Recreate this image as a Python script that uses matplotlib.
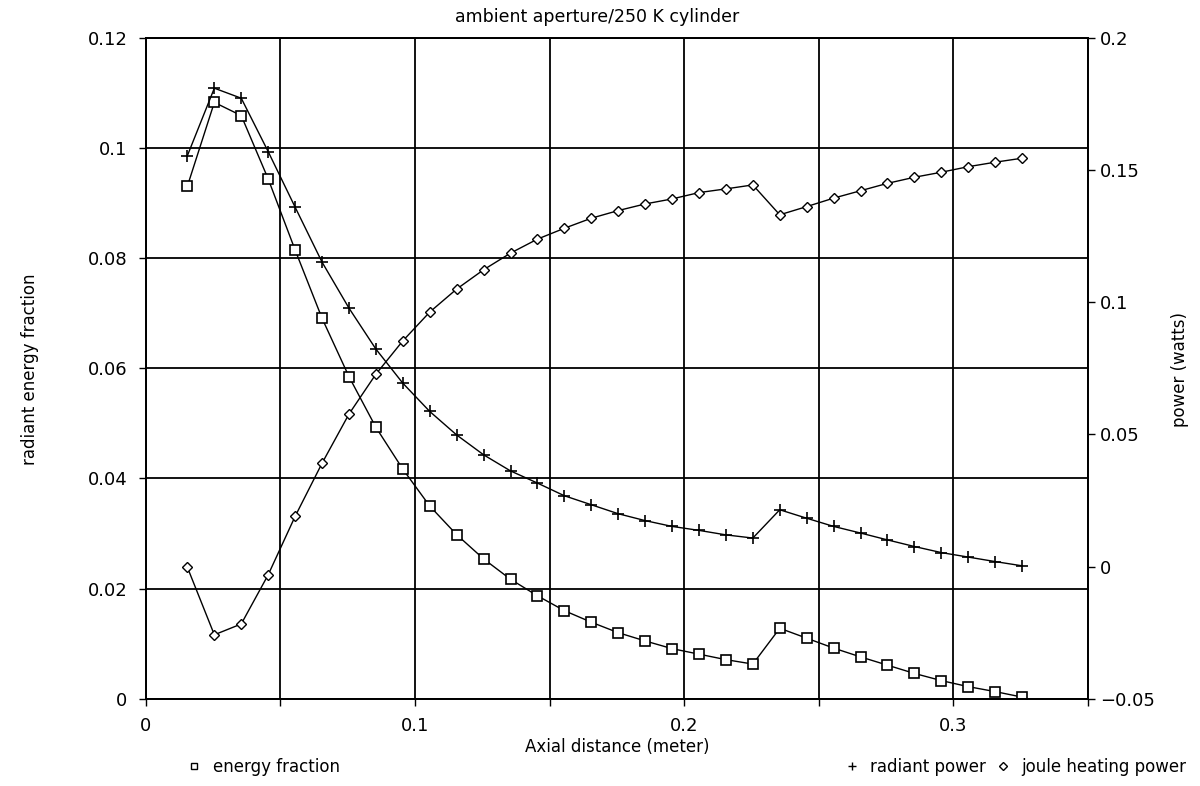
import numpy as np
import matplotlib
matplotlib.use("Agg")
import matplotlib.pyplot as plt
from matplotlib.lines import Line2D

# axial positions (m)
x = 0.0155 + 0.01 * np.arange(32)

energy_fraction = [0.0931, 0.1083, 0.1059, 0.0944, 0.0815, 0.0691, 0.0585, 0.0493,
                   0.0417, 0.0350, 0.0298, 0.0254, 0.0217, 0.0187, 0.0160, 0.0139,
                   0.0120, 0.0105, 0.0091, 0.0081, 0.0071, 0.0063, 0.0128, 0.0110,
                   0.0092, 0.0076, 0.0061, 0.0046, 0.0033, 0.0022, 0.0013, 0.0003]

radiant_power = [0.1555, 0.1810, 0.1772, 0.1570, 0.1360, 0.1152, 0.0978, 0.0823,
                 0.0694, 0.0587, 0.0498, 0.0423, 0.0362, 0.0316, 0.0268, 0.0234,
                 0.0200, 0.0174, 0.0152, 0.0137, 0.0120, 0.0108, 0.0215, 0.0183,
                 0.0152, 0.0127, 0.0101, 0.0076, 0.0053, 0.0036, 0.0019, 0.0003]

joule_power = [-0.0003, -0.0258, -0.0217, -0.0031, 0.0190, 0.0391, 0.0577, 0.0728,
               0.0854, 0.0963, 0.1050, 0.1123, 0.1186, 0.1239, 0.1280, 0.1318,
               0.1347, 0.1372, 0.1391, 0.1415, 0.1429, 0.1444, 0.1331, 0.1362,
               0.1394, 0.1422, 0.1450, 0.1473, 0.1492, 0.1513, 0.1530, 0.1545]

plt.rcParams['font.family'] = 'DejaVu Sans'

fig = plt.figure(figsize=(12, 7.86), dpi=100)
ax = fig.add_axes([0.1214, 0.111, 0.7853, 0.8407])
ax2 = ax.twinx()

ax.plot(x, energy_fraction, color='black', lw=1, marker='s', ms=7.5, mfc='white', mec='black', mew=1.2)
ax2.plot(x, radiant_power, color='black', lw=1, marker='+', ms=8, mew=1.2)
ax2.plot(x, joule_power, color='black', lw=1, marker='D', ms=5, mfc='white', mec='black', mew=1.0)

ax.set_xlim(0, 0.35)
ax.set_ylim(0, 0.12)
ax2.set_ylim(-0.05, 0.2)

ax.set_xticks(np.arange(0, 0.351, 0.05))
ax.set_xticklabels(['0', '', '0.1', '', '0.2', '', '0.3', ''])
ax.set_yticks(np.arange(0, 0.121, 0.02))
ax.set_yticklabels(['0', '0.02', '0.04', '0.06', '0.08', '0.1', '0.12'])
ax2.set_yticks(np.arange(-0.05, 0.201, 0.05))
ax2.set_yticklabels(['\u22120.05', '0', '0.05', '0.1', '0.15', '0.2'])

ax.grid(True, color='black', lw=1.3)
for a in (ax, ax2):
    for s in a.spines.values():
        s.set_linewidth(1.3)
ax.tick_params(labelsize=13, direction='out', length=5, width=1, pad=8)
ax2.tick_params(labelsize=13, direction='out', length=5, width=1)

ax.set_xlabel('Axial distance (meter)', fontsize=12, labelpad=2)
fig.text(0.025, 0.53, 'radiant energy fraction', rotation=90, ha='center', va='center', fontsize=12)
fig.text(0.983, 0.53, 'power (watts)', rotation=90, ha='center', va='center', fontsize=12)
fig.text(0.4975, 0.978, 'ambient aperture/250 K cylinder', ha='center', va='center', fontsize=12.5)

h1 = Line2D([], [], ls='none', marker='s', ms=5, mfc='white', mec='black', mew=1)
h2 = Line2D([], [], ls='none', marker='+', ms=6, mec='black', mew=1)
h3 = Line2D([], [], ls='none', marker='D', ms=4, mfc='white', mec='black', mew=1)
for h, lab, xpos in [(h1, 'energy fraction', 0.155), (h2, 'radiant power', 0.703),
                     (h3, 'joule heating power', 0.829)]:
    fig.legend([h], [lab], loc='center left', bbox_to_anchor=(xpos, 0.024),
               frameon=False, fontsize=12, handlelength=1.0, handletextpad=0.6,
               borderpad=0, borderaxespad=0)

fig.savefig('out.png', dpi=100)
